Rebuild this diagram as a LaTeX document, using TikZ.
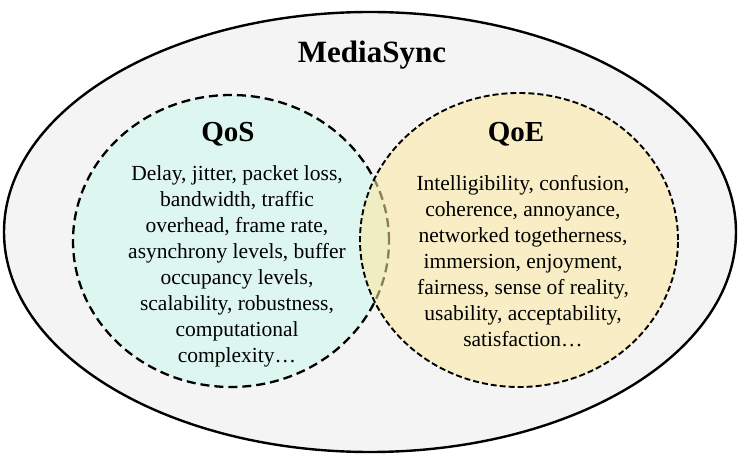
\documentclass[tikz,border=0pt]{standalone}
\usepackage{fontspec}
\setmainfont{Liberation Serif}
\usetikzlibrary{shapes.geometric}
\definecolor{outerfill}{RGB}{244,244,244}
\definecolor{qosfill}{RGB}{221,246,240}
\definecolor{qoefill}{RGB}{252,232,158}
\begin{document}
\begin{tikzpicture}[x=1pt,y=-1pt,
  region/.style={ellipse,inner sep=0pt,outer sep=0pt},
  title/.style={font=\fontsize{29}{34}\selectfont\bfseries,inner sep=0pt},
  body/.style={font=\fontsize{21.5}{26}\selectfont,align=center,inner sep=0pt}]
\useasboundingbox (0,0) rectangle (740,454);
% outer set
\node[region,draw=black,line width=2.4pt,fill=outerfill,
      minimum width=732pt,minimum height=440pt] (media) at (370,232) {};
% QoS set
\node[region,fill=qosfill,minimum width=316pt,minimum height=292pt] (qos) at (231,241) {};
\node[region,draw=black,line width=2.3pt,dash pattern=on 9pt off 5pt,
      minimum width=316pt,minimum height=292pt] (qosline) at (231,241) {};
% QoE set, translucent so the QoS border shows through
\node[region,fill=qoefill,fill opacity=0.55,minimum width=318pt,minimum height=294pt] (qoe) at (519,240) {};
\node[region,draw=black,line width=1.9pt,dash pattern=on 6pt off 3pt,
      minimum width=318pt,minimum height=294pt] (qoeline) at (519,240) {};
% labels
\node[font=\fontsize{31}{37}\selectfont\bfseries,inner sep=0pt] (mtitle) at (372,55) {MediaSync};
\node[title] (qostitle) at (228,134) {QoS};
\node[title] (qoetitle) at (516,134) {QoE};
\node[body] (qostext) at (237,266) {Delay, jitter, packet loss,\\bandwidth, traffic\\overhead, frame rate,\\asynchrony levels, buffer\\occupancy levels,\\scalability, robustness,\\computational\\complexity…};
\node[body] (qoetext) at (523,261) {Intelligibility, confusion,\\coherence, annoyance,\\networked togetherness,\\immersion, enjoyment,\\fairness, sense of reality,\\usability, acceptability,\\satisfaction…};
\end{tikzpicture}
\end{document}
